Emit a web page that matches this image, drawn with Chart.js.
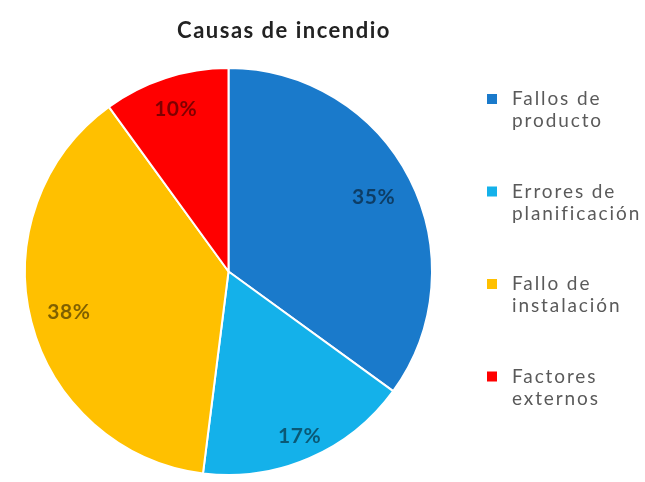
<!DOCTYPE html>
<html>
<head>
<meta charset="utf-8">
<script src="https://cdn.jsdelivr.net/npm/chart.js@4/dist/chart.umd.min.js"></script>
<style>
  html, body { margin: 0; padding: 0; background: #ffffff; }
  #wrap { position: relative; width: 645px; height: 482px; }
</style>
</head>
<body>
<div id="wrap"><canvas id="c" width="645" height="482"></canvas></div>
<script>
// Causas de incendio — share of each cause (%)
const chartTitle = 'Causas de incendio';
const categories = [
  ['Fallos de', 'producto'],
  ['Errores de', 'planificación'],
  ['Fallo de', 'instalación'],
  ['Factores', 'externos']
];
const values = [35, 17, 38, 10];
const sliceColors = ['#1a7acb', '#14b1ea', '#ffc000', '#ff0000'];
// how far out (fraction of the radius) each percentage sits
const labelDistance = [0.80, 0.88, 0.81, 0.84];

// percentage text inside each slice
const sliceLabels = {
  id: 'sliceLabels',
  afterDatasetsDraw(chart) {
    const ctx = chart.ctx;
    const meta = chart.getDatasetMeta(0);
    ctx.save();
    ctx.font = 'bold 21px Lato, "DejaVu Sans", sans-serif';
    ctx.letterSpacing = '0.5px';
    ctx.fillStyle = 'rgba(0,0,0,0.5)';
    ctx.textAlign = 'center';
    ctx.textBaseline = 'middle';
    meta.data.forEach((arc, i) => {
      const p = arc.getProps(['x', 'y', 'startAngle', 'endAngle', 'outerRadius'], true);
      const mid = (p.startAngle + p.endAngle) / 2;
      const d = p.outerRadius * labelDistance[i];
      ctx.fillText(values[i] + '%', p.x + Math.cos(mid) * d, p.y + Math.sin(mid) * d);
    });
    ctx.restore();
  }
};

// heading and side key
const sideKey = {
  id: 'sideKey',
  afterDraw(chart) {
    const ctx = chart.ctx;
    ctx.save();
    ctx.fillStyle = '#222222';
    ctx.font = 'bold 22px Lato, "DejaVu Sans", sans-serif';
    ctx.letterSpacing = '1.5px';
    ctx.textAlign = 'center';
    ctx.textBaseline = 'alphabetic';
    ctx.fillText(chartTitle, 284, 38);

    ctx.font = '19px Lato, "DejaVu Sans", sans-serif';
    ctx.letterSpacing = '1.9px';
    ctx.textAlign = 'left';
    categories.forEach((lines, i) => {
      const base = 105 + i * 92.5;
      ctx.fillStyle = sliceColors[i];
      ctx.fillRect(487, base - 11, 10, 10);
      ctx.fillStyle = '#5a5a5a';
      lines.forEach((t, j) => ctx.fillText(t, 512, base + j * 22));
    });
    ctx.restore();
  }
};

new Chart(document.getElementById('c'), {
  type: 'pie',
  data: {
    labels: categories.map(l => l.join(' ')),
    datasets: [{
      data: values,
      backgroundColor: sliceColors,
      borderColor: '#ffffff',
      borderWidth: 2
    }]
  },
  options: {
    responsive: false,
    animation: false,
    layout: { padding: { left: 24, right: 212, top: 67, bottom: 6 } },
    plugins: {
      legend: { display: false },
      title: { display: false },
      tooltip: { enabled: false }
    }
  },
  plugins: [sliceLabels, sideKey]
});
</script>
</body>
</html>
